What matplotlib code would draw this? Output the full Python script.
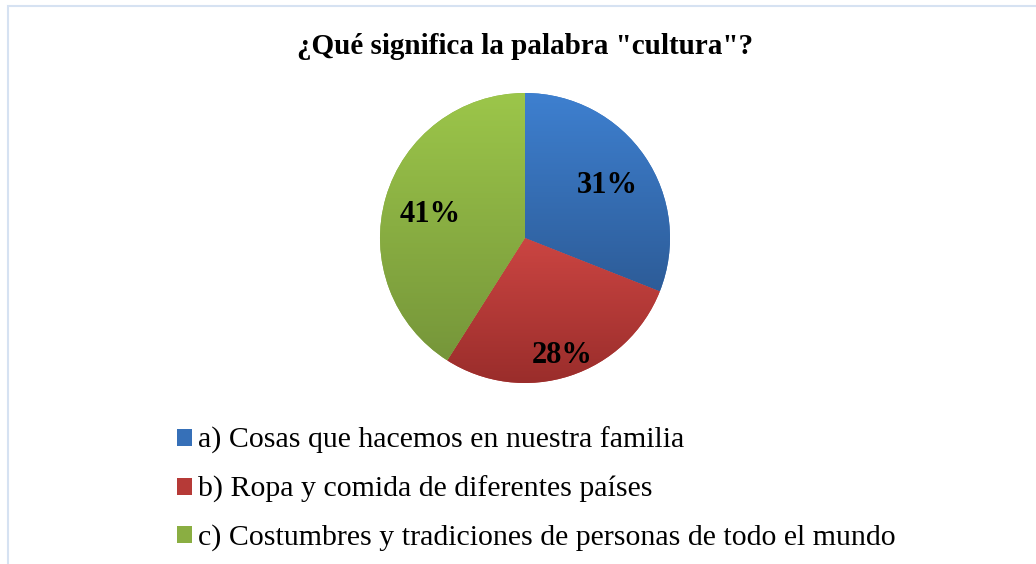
import matplotlib
matplotlib.use("Agg")
import matplotlib.pyplot as plt
import numpy as np
from matplotlib.colors import LinearSegmentedColormap
from matplotlib.patches import Rectangle

title = '¿Qué significa la palabra "cultura"?'
categories = ["a) Cosas que hacemos en nuestra familia",
              "b) Ropa y comida de diferentes países",
              "c) Costumbres y tradiciones de personas de todo el mundo"]
values = [31, 28, 41]
pct_labels = ["31%", "28%", "41%"]

colors_mid = ["#3670B8", "#B63A37", "#8AAE42"]
colors_top = ["#3E80D0", "#CB4542", "#9CC64A"]
colors_bot = ["#2D5C98", "#9A2D2B", "#76963A"]
label_dist = [0.69, 0.82, 0.68]

W, H = 1036, 564
fig = plt.figure(figsize=(W / 100, H / 100), dpi=100)
fig.patch.set_facecolor("white")

# outer frame
fig.add_artist(Rectangle((8 / W, -0.1), 1.2, (564 - 6) / H + 0.1, transform=fig.transFigure,
                         fill=False, edgecolor="#d6e2f2", linewidth=1.5))

cx, cy, r = 525, 238, 145
ax = fig.add_axes([(cx - r) / W, (H - cy - r) / H, 2 * r / W, 2 * r / H])
wedges, _ = ax.pie(values, colors=colors_mid, startangle=90, counterclock=False,
                   radius=1, wedgeprops=dict(linewidth=0))
ax.set_xlim(-1, 1)
ax.set_ylim(-1, 1)
ax.set_aspect("equal")

for w, ct, cb in zip(wedges, colors_top, colors_bot):
    ext = w.get_window_extent(renderer=fig.canvas.get_renderer())
    inv = ax.transData.inverted()
    (x0, y0), (x1, y1) = inv.transform([[ext.x0, ext.y0], [ext.x1, ext.y1]])
    cmap = LinearSegmentedColormap.from_list("g", [cb, ct])
    grad = np.linspace(0, 1, 256).reshape(-1, 1)
    im = ax.imshow(grad, cmap=cmap, extent=[x0, x1, y0, y1], origin="lower",
                   aspect="auto", zorder=2, interpolation="bilinear")
    im.set_clip_path(w)

ax.set_xlim(-1, 1)
ax.set_ylim(-1, 1)

for w, lab, d in zip(wedges, pct_labels, label_dist):
    ang = np.deg2rad((w.theta1 + w.theta2) / 2)
    ax.annotate(lab, xy=(d * np.cos(ang), d * np.sin(ang)), xytext=(0, -4),
                textcoords="offset pixels", ha="center", va="center",
                fontsize=22, fontweight="bold", family="Liberation Serif", zorder=5)

fig.text(cx / W, 1 - 46 / H, title, ha="center", va="center",
         fontsize=21, fontweight="bold", family="Liberation Serif")

leg = fig.legend(wedges, categories, loc="upper left",
                 bbox_to_anchor=(150 / W, 1 - 400 / H), frameon=False,
                 prop=dict(family="Liberation Serif", size=21.5),
                 handlelength=0.5, handleheight=0.5, handletextpad=0.2,
                 labelspacing=0.72)

fig.savefig("out.png", dpi=100)
